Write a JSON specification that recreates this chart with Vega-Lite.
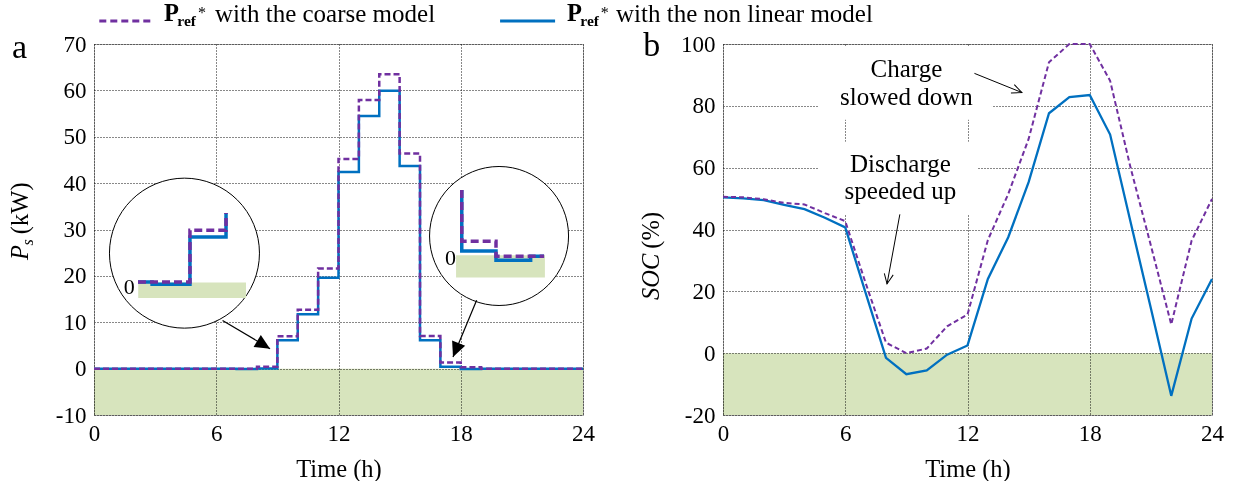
{
  "$schema": "https://vega.github.io/schema/vega-lite/v6.json",
  "padding": {"left": 7, "top": 0, "right": 0, "bottom": 0},
  "spacing": 140,
  "bounds": "flush",
  "config": {
    "view": {"stroke": "#555", "strokeDash": [1, 1]},
    "axis": {"grid": true, "gridColor": "#111", "gridDash": [1, 2], "gridWidth": 1, "domain": false, "ticks": false, "tickSize": 0,
      "labelFont": "Liberation Serif", "labelFontSize": 23, "labelColor": "#000", "labelFlush": false, "labelOverlap": false,
      "labelExpr": "datum.value + ''",
      "titleFont": "Liberation Serif", "titleFontSize": 24.5, "titleFontWeight": "normal", "titleColor": "#000"},
    "axisX": {"labelPadding": 7, "titlePadding": 12},
    "axisY": {"labelPadding": 8},
    "text": {"font": "Liberation Serif", "color": "#000"}
  },
  "datasets": {
    "ps": [
      {"h": 0, "m": "c", "p": 0}, {"h": 1, "m": "c", "p": 0}, {"h": 2, "m": "c", "p": 0}, {"h": 3, "m": "c", "p": 0}, {"h": 4, "m": "c", "p": 0}, {"h": 5, "m": "c", "p": 0}, {"h": 6, "m": "c", "p": 0}, {"h": 7, "m": "c", "p": 0}, {"h": 8, "m": "c", "p": 0.4}, {"h": 9, "m": "c", "p": 7.0}, {"h": 10, "m": "c", "p": 12.7}, {"h": 11, "m": "c", "p": 21.6}, {"h": 12, "m": "c", "p": 45.2}, {"h": 13, "m": "c", "p": 57.9}, {"h": 14, "m": "c", "p": 63.5}, {"h": 15, "m": "c", "p": 46.4}, {"h": 16, "m": "c", "p": 7.05}, {"h": 17, "m": "c", "p": 1.3}, {"h": 18, "m": "c", "p": 0.3}, {"h": 19, "m": "c", "p": 0}, {"h": 20, "m": "c", "p": 0}, {"h": 21, "m": "c", "p": 0}, {"h": 22, "m": "c", "p": 0}, {"h": 23, "m": "c", "p": 0}, {"h": 24, "m": "c", "p": 0},
      {"h": 0, "m": "n", "p": 0}, {"h": 1, "m": "n", "p": 0}, {"h": 2, "m": "n", "p": 0}, {"h": 3, "m": "n", "p": 0}, {"h": 4, "m": "n", "p": 0}, {"h": 5, "m": "n", "p": 0}, {"h": 6, "m": "n", "p": 0}, {"h": 7, "m": "n", "p": -0.1}, {"h": 8, "m": "n", "p": 0.05}, {"h": 9, "m": "n", "p": 6.1}, {"h": 10, "m": "n", "p": 11.7}, {"h": 11, "m": "n", "p": 19.6}, {"h": 12, "m": "n", "p": 42.4}, {"h": 13, "m": "n", "p": 54.5}, {"h": 14, "m": "n", "p": 59.9}, {"h": 15, "m": "n", "p": 43.7}, {"h": 16, "m": "n", "p": 6.1}, {"h": 17, "m": "n", "p": 0.4}, {"h": 18, "m": "n", "p": -0.1}, {"h": 19, "m": "n", "p": 0}, {"h": 20, "m": "n", "p": 0}, {"h": 21, "m": "n", "p": 0}, {"h": 22, "m": "n", "p": 0}, {"h": 23, "m": "n", "p": 0}, {"h": 24, "m": "n", "p": 0}
    ],
    "soc": [
      {"h": 0, "m": "n", "s": 50.4}, {"h": 1, "m": "n", "s": 50.1}, {"h": 2, "m": "n", "s": 49.5}, {"h": 3, "m": "n", "s": 48.0}, {"h": 4, "m": "n", "s": 46.6}, {"h": 5, "m": "n", "s": 43.8}, {"h": 6, "m": "n", "s": 40.7}, {"h": 7, "m": "n", "s": 19.5}, {"h": 8, "m": "n", "s": -1.5}, {"h": 9, "m": "n", "s": -6.8}, {"h": 10, "m": "n", "s": -5.6}, {"h": 11, "m": "n", "s": -0.5}, {"h": 12, "m": "n", "s": 2.5}, {"h": 13, "m": "n", "s": 24.0}, {"h": 14, "m": "n", "s": 37.5}, {"h": 15, "m": "n", "s": 55.3}, {"h": 16, "m": "n", "s": 77.6}, {"h": 17, "m": "n", "s": 82.8}, {"h": 18, "m": "n", "s": 83.5}, {"h": 19, "m": "n", "s": 70.7}, {"h": 20, "m": "n", "s": 42.5}, {"h": 21, "m": "n", "s": 14.5}, {"h": 22, "m": "n", "s": -13.8}, {"h": 23, "m": "n", "s": 11.2}, {"h": 24, "m": "n", "s": 24.0},
      {"h": 0, "m": "c", "s": 50.6}, {"h": 1, "m": "c", "s": 50.4}, {"h": 2, "m": "c", "s": 49.8}, {"h": 3, "m": "c", "s": 48.6}, {"h": 4, "m": "c", "s": 48.1}, {"h": 5, "m": "c", "s": 45.3}, {"h": 6, "m": "c", "s": 42.7}, {"h": 7, "m": "c", "s": 22.7}, {"h": 8, "m": "c", "s": 3.4}, {"h": 9, "m": "c", "s": 0}, {"h": 10, "m": "c", "s": 1.5}, {"h": 11, "m": "c", "s": 8.7}, {"h": 12, "m": "c", "s": 12.5}, {"h": 13, "m": "c", "s": 36.6}, {"h": 14, "m": "c", "s": 51.5}, {"h": 15, "m": "c", "s": 69.3}, {"h": 16, "m": "c", "s": 94.1}, {"h": 17, "m": "c", "s": 100}, {"h": 18, "m": "c", "s": 100}, {"h": 19, "m": "c", "s": 88.1}, {"h": 20, "m": "c", "s": 60.1}, {"h": 21, "m": "c", "s": 34.8}, {"h": 22, "m": "c", "s": 9.3}, {"h": 23, "m": "c", "s": 36.4}, {"h": 24, "m": "c", "s": 49.9}
    ],
    "inset": [
      {"g": "1n", "m": "n", "o": 0, "h": 2.16, "v": 18.69}, {"g": "1n", "m": "n", "o": 1, "h": 2.85, "v": 18.69}, {"g": "1n", "m": "n", "o": 2, "h": 2.85, "v": 18.19}, {"g": "1n", "m": "n", "o": 3, "h": 4.71, "v": 18.19}, {"g": "1n", "m": "n", "o": 4, "h": 4.71, "v": 28.4}, {"g": "1n", "m": "n", "o": 5, "h": 6.48, "v": 28.4}, {"g": "1n", "m": "n", "o": 6, "h": 6.48, "v": 33.58},
      {"g": "1c", "m": "c", "o": 0, "h": 2.16, "v": 18.69}, {"g": "1c", "m": "c", "o": 1, "h": 4.71, "v": 18.69}, {"g": "1c", "m": "c", "o": 2, "h": 4.71, "v": 29.85}, {"g": "1c", "m": "c", "o": 3, "h": 6.48, "v": 29.85}, {"g": "1c", "m": "c", "o": 4, "h": 6.48, "v": 33.58},
      {"g": "2n", "m": "n", "o": 0, "h": 18.05, "v": 38.5}, {"g": "2n", "m": "n", "o": 1, "h": 18.05, "v": 25.38}, {"g": "2n", "m": "n", "o": 2, "h": 19.73, "v": 25.38}, {"g": "2n", "m": "n", "o": 3, "h": 19.73, "v": 23.38}, {"g": "2n", "m": "n", "o": 4, "h": 21.43, "v": 23.38}, {"g": "2n", "m": "n", "o": 5, "h": 21.43, "v": 24.24}, {"g": "2n", "m": "n", "o": 6, "h": 22.09, "v": 24.24},
      {"g": "2c", "m": "c", "o": 0, "h": 18.05, "v": 38.5}, {"g": "2c", "m": "c", "o": 1, "h": 18.05, "v": 27.48}, {"g": "2c", "m": "c", "o": 2, "h": 19.73, "v": 27.48}, {"g": "2c", "m": "c", "o": 3, "h": 19.73, "v": 24.24}, {"g": "2c", "m": "c", "o": 4, "h": 22.09, "v": 24.24}
    ]
  },
  "hconcat": [
    {
      "width": 489,
      "height": 371,
      "layer": [
        {
          "data": {"values": [{}]},
          "mark": {"type": "rect", "color": "#d7e4bd", "blend": "multiply"},
          "encoding": {"x": {"datum": 0, "type": "quantitative"}, "x2": {"datum": 24}, "y": {"datum": -10, "type": "quantitative"}, "y2": {"datum": 0}}
        },
        {
          "data": {"name": "ps"},
          "transform": [{"filter": "datum.m === 'n'"}],
          "mark": {"type": "line", "interpolate": "step-after", "color": "#0070c0", "strokeWidth": 2.5},
          "encoding": {
            "x": {"field": "h", "type": "quantitative", "scale": {"domain": [0, 24], "nice": false, "zero": false}, "axis": {"values": [0, 6, 12, 18, 24], "title": "Time (h)"}},
            "y": {"field": "p", "type": "quantitative", "scale": {"domain": [-10, 70], "nice": false}, "axis": {"values": [-10, 0, 10, 20, 30, 40, 50, 60, 70], "title": null}}
          }
        },
        {
          "data": {"name": "ps"},
          "transform": [{"filter": "datum.m === 'c'"}],
          "mark": {"type": "line", "interpolate": "step-after", "color": "#7030a0", "strokeWidth": 2.5, "strokeDash": [6, 3]},
          "encoding": {"x": {"field": "h", "type": "quantitative"}, "y": {"field": "p", "type": "quantitative"}}
        },
        {
          "data": {"values": [{"h": 4.44, "v": 24.9}]},
          "mark": {"type": "point", "shape": "circle", "filled": true, "fill": "#fff", "stroke": "#000", "strokeWidth": 1, "size": 22500, "opacity": 1},
          "encoding": {"x": {"field": "h", "type": "quantitative"}, "y": {"field": "v", "type": "quantitative"}}
        },
        {
          "data": {"values": [{"h": 19.88, "v": 28.6}]},
          "mark": {"type": "point", "shape": "circle", "filled": true, "fill": "#fff", "stroke": "#000", "strokeWidth": 1, "size": 19321, "opacity": 1},
          "encoding": {"x": {"field": "h", "type": "quantitative"}, "y": {"field": "v", "type": "quantitative"}}
        },
        {
          "data": {"values": [{"h": 2.17, "h2": 7.46, "v": 18.56, "v2": 15.24}, {"h": 17.77, "h2": 22.13, "v": 24.46, "v2": 19.64}]},
          "mark": {"type": "rect", "color": "#d7e4bd"},
          "encoding": {"x": {"field": "h", "type": "quantitative"}, "x2": {"field": "h2"}, "y": {"field": "v", "type": "quantitative"}, "y2": {"field": "v2"}}
        },
        {
          "data": {"name": "inset"},
          "transform": [{"filter": "datum.m === 'n'"}],
          "mark": {"type": "line", "color": "#0070c0", "strokeWidth": 3.5},
          "encoding": {"x": {"field": "h", "type": "quantitative"}, "y": {"field": "v", "type": "quantitative"}, "detail": {"field": "g"}, "order": {"field": "o"}}
        },
        {
          "data": {"name": "inset"},
          "transform": [{"filter": "datum.m === 'c'"}],
          "mark": {"type": "line", "color": "#7030a0", "strokeWidth": 3.5, "strokeDash": [8, 4]},
          "encoding": {"x": {"field": "h", "type": "quantitative"}, "y": {"field": "v", "type": "quantitative"}, "detail": {"field": "g"}, "order": {"field": "o"}}
        },
        {
          "data": {"values": [{"h": 1.73, "v": 17.6, "t": "0"}, {"h": 17.5, "v": 23.9, "t": "0"}]},
          "mark": {"type": "text", "fontSize": 22, "align": "center", "baseline": "middle"},
          "encoding": {"x": {"field": "h", "type": "quantitative"}, "y": {"field": "v", "type": "quantitative"}, "text": {"field": "t"}}
        },
        {
          "data": {"values": [{"h": 6.31, "v": 10.4, "h2": 8.64, "v2": 4.3}, {"h": 18.78, "v": 14.75, "h2": 17.62, "v2": 2.5}]},
          "mark": {"type": "rule", "color": "#000", "strokeWidth": 1.2},
          "encoding": {"x": {"field": "h", "type": "quantitative"}, "y": {"field": "v", "type": "quantitative"}, "x2": {"field": "h2"}, "y2": {"field": "v2"}}
        },
        {
          "data": {"values": [{"h": 8.64, "v": 4.3}]},
          "mark": {"type": "point", "shape": "M0,0L0.47,1L-0.47,1Z", "filled": true, "color": "#000", "opacity": 1, "size": 900, "angle": 121},
          "encoding": {"x": {"field": "h", "type": "quantitative"}, "y": {"field": "v", "type": "quantitative"}}
        },
        {
          "data": {"values": [{"h": 17.62, "v": 2.5}]},
          "mark": {"type": "point", "shape": "M0,0L0.47,1L-0.47,1Z", "filled": true, "color": "#000", "opacity": 1, "size": 900, "angle": 202},
          "encoding": {"x": {"field": "h", "type": "quantitative"}, "y": {"field": "v", "type": "quantitative"}}
        },
        {
          "data": {"values": [{}]},
          "mark": {"type": "rule", "color": "#7030a0", "strokeWidth": 3, "strokeDash": [7, 4]},
          "encoding": {"x": {"datum": 0.26, "type": "quantitative"}, "x2": {"datum": 2.83}, "y": {"datum": 74.97, "type": "quantitative"}}
        },
        {
          "data": {"values": [{}]},
          "mark": {"type": "rule", "color": "#0070c0", "strokeWidth": 3},
          "encoding": {"x": {"datum": 19.93, "type": "quantitative"}, "x2": {"datum": 22.63}, "y": {"datum": 74.97, "type": "quantitative"}}
        },
        {
          "data": {"values": [{"h": 3.43, "v": 79.02, "t": "P"}, {"h": 23.21, "v": 79.02, "t": "P"}]},
          "mark": {"type": "text", "fontSize": 24.5, "fontWeight": "bold", "align": "left", "baseline": "top"},
          "encoding": {"x": {"field": "h", "type": "quantitative"}, "y": {"field": "v", "type": "quantitative"}, "text": {"field": "t"}}
        },
        {
          "data": {"values": [{"h": 4.09, "v": 76.47, "t": "ref"}, {"h": 23.87, "v": 76.47, "t": "ref"}]},
          "mark": {"type": "text", "fontSize": 15.5, "fontWeight": "bold", "align": "left", "baseline": "top"},
          "encoding": {"x": {"field": "h", "type": "quantitative"}, "y": {"field": "v", "type": "quantitative"}, "text": {"field": "t"}}
        },
        {
          "data": {"values": [{"h": 5.1, "v": 78.47, "t": "*"}, {"h": 24.87, "v": 78.47, "t": "*"}]},
          "mark": {"type": "text", "fontSize": 16, "align": "left", "baseline": "top"},
          "encoding": {"x": {"field": "h", "type": "quantitative"}, "y": {"field": "v", "type": "quantitative"}, "text": {"field": "t"}}
        },
        {
          "data": {"values": [{"h": 5.94, "v": 79.02, "t": "with the coarse model"}, {"h": 25.62, "v": 79.02, "t": "with the non linear model"}]},
          "mark": {"type": "text", "fontSize": 25, "align": "left", "baseline": "top"},
          "encoding": {"x": {"field": "h", "type": "quantitative"}, "y": {"field": "v", "type": "quantitative"}, "text": {"field": "t"}}
        },
        {
          "data": {"values": [{"h": -4.02, "v": 67.0, "t": "a"}]},
          "mark": {"type": "text", "fontSize": 34, "align": "left", "baseline": "alphabetic"},
          "encoding": {"x": {"field": "h", "type": "quantitative"}, "y": {"field": "v", "type": "quantitative"}, "text": {"field": "t"}}
        },
        {
          "data": {"values": [{"h": -3.24, "v": 23.4, "t": "P"}]},
          "mark": {"type": "text", "fontSize": 24.5, "fontStyle": "italic", "angle": 270, "align": "left", "baseline": "alphabetic"},
          "encoding": {"x": {"field": "h", "type": "quantitative"}, "y": {"field": "v", "type": "quantitative"}, "text": {"field": "t"}}
        },
        {
          "data": {"values": [{"h": -2.99, "v": 26.55, "t": "s"}]},
          "mark": {"type": "text", "fontSize": 16, "fontStyle": "italic", "angle": 270, "align": "left", "baseline": "alphabetic"},
          "encoding": {"x": {"field": "h", "type": "quantitative"}, "y": {"field": "v", "type": "quantitative"}, "text": {"field": "t"}}
        },
        {
          "data": {"values": [{"h": -3.24, "v": 29.0, "t": "(kW)"}]},
          "mark": {"type": "text", "fontSize": 24.5, "angle": 270, "align": "left", "baseline": "alphabetic"},
          "encoding": {"x": {"field": "h", "type": "quantitative"}, "y": {"field": "v", "type": "quantitative"}, "text": {"field": "t"}}
        }
      ]
    },
    {
      "width": 489,
      "height": 371,
      "layer": [
        {
          "data": {"values": [{}]},
          "mark": {"type": "rect", "color": "#d7e4bd", "blend": "multiply"},
          "encoding": {"x": {"datum": 0, "type": "quantitative"}, "x2": {"datum": 24}, "y": {"datum": -20, "type": "quantitative"}, "y2": {"datum": 0}}
        },
        {
          "data": {"values": [{"h": 4.7, "h2": 13.2, "v": 99.3, "v2": 75.5}, {"h": 4.7, "h2": 12.5, "v": 68.4, "v2": 44.9}]},
          "mark": {"type": "rect", "color": "#fff"},
          "encoding": {"x": {"field": "h", "type": "quantitative"}, "x2": {"field": "h2"}, "y": {"field": "v", "type": "quantitative"}, "y2": {"field": "v2"}}
        },
        {
          "data": {"name": "soc"},
          "transform": [{"filter": "datum.m === 'n'"}],
          "mark": {"type": "line", "color": "#0070c0", "strokeWidth": 2.3},
          "encoding": {
            "x": {"field": "h", "type": "quantitative", "scale": {"domain": [0, 24], "nice": false, "zero": false}, "axis": {"values": [0, 6, 12, 18, 24], "title": "Time (h)"}},
            "y": {"field": "s", "type": "quantitative", "scale": {"domain": [-20, 100], "nice": false}, "axis": {"values": [-20, 0, 20, 40, 60, 80, 100], "title": null}}
          }
        },
        {
          "data": {"name": "soc"},
          "transform": [{"filter": "datum.m === 'c'"}],
          "mark": {"type": "line", "color": "#7030a0", "strokeWidth": 2, "strokeDash": [5, 3]},
          "encoding": {"x": {"field": "h", "type": "quantitative"}, "y": {"field": "s", "type": "quantitative"}}
        },
        {
          "data": {"values": [{"h": 9.0, "v": 89.2, "t": "Charge"}, {"h": 9.0, "v": 80.3, "t": "slowed down"}, {"h": 8.71, "v": 58.6, "t": "Discharge"}, {"h": 8.71, "v": 49.9, "t": "speeded up"}]},
          "mark": {"type": "text", "fontSize": 25, "align": "center", "baseline": "alphabetic"},
          "encoding": {"x": {"field": "h", "type": "quantitative"}, "y": {"field": "v", "type": "quantitative"}, "text": {"field": "t"}}
        },
        {
          "data": {"values": [{"h": 12.34, "v": 90.5, "h2": 14.67, "v2": 84.3}, {"h": 8.68, "v": 44.9, "h2": 8.05, "v2": 22.4}]},
          "mark": {"type": "rule", "color": "#000", "strokeWidth": 1},
          "encoding": {"x": {"field": "h", "type": "quantitative"}, "y": {"field": "v", "type": "quantitative"}, "x2": {"field": "h2"}, "y2": {"field": "v2"}}
        },
        {
          "data": {"values": [{"h": 14.67, "v": 84.3}]},
          "mark": {"type": "point", "shape": "M-0.45,1L0,0L0.45,1", "filled": false, "color": "#000", "strokeWidth": 1, "opacity": 1, "size": 400, "angle": 112},
          "encoding": {"x": {"field": "h", "type": "quantitative"}, "y": {"field": "v", "type": "quantitative"}}
        },
        {
          "data": {"values": [{"h": 8.05, "v": 22.4}]},
          "mark": {"type": "point", "shape": "M-0.45,1L0,0L0.45,1", "filled": false, "color": "#000", "strokeWidth": 1, "opacity": 1, "size": 400, "angle": 190},
          "encoding": {"x": {"field": "h", "type": "quantitative"}, "y": {"field": "v", "type": "quantitative"}}
        },
        {
          "data": {"values": [{"h": -3.91, "v": 96.2, "t": "b"}]},
          "mark": {"type": "text", "fontSize": 34, "align": "left", "baseline": "alphabetic"},
          "encoding": {"x": {"field": "h", "type": "quantitative"}, "y": {"field": "v", "type": "quantitative"}, "text": {"field": "t"}}
        },
        {
          "data": {"values": [{"h": -3.12, "v": 17.2, "t": "SOC"}]},
          "mark": {"type": "text", "fontSize": 24.5, "fontStyle": "italic", "angle": 270, "align": "left", "baseline": "alphabetic"},
          "encoding": {"x": {"field": "h", "type": "quantitative"}, "y": {"field": "v", "type": "quantitative"}, "text": {"field": "t"}}
        },
        {
          "data": {"values": [{"h": -3.12, "v": 33.8, "t": "(%)"}]},
          "mark": {"type": "text", "fontSize": 24.5, "angle": 270, "align": "left", "baseline": "alphabetic"},
          "encoding": {"x": {"field": "h", "type": "quantitative"}, "y": {"field": "v", "type": "quantitative"}, "text": {"field": "t"}}
        }
      ]
    }
  ]
}
